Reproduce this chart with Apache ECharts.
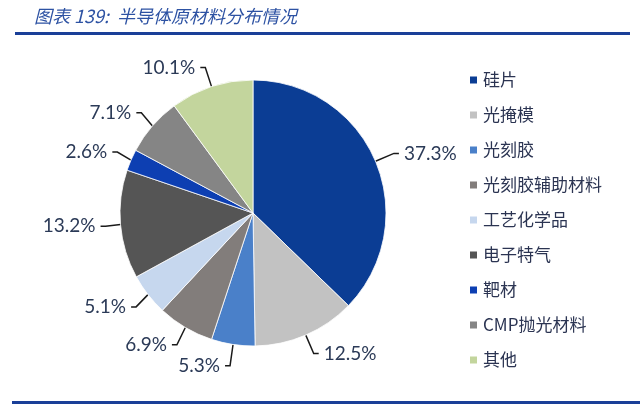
<!DOCTYPE html>
<html lang="zh">
<head>
    <meta charset="UTF-8">
    <title>半导体原材料分布情况</title>
    <script src="https://cdn.jsdelivr.net/npm/echarts@6/dist/echarts.min.js"></script>
    <style>
        html, body { margin: 0; padding: 0; background: #fff; }
        #main { width: 640px; height: 410px; }
    </style>
</head>
<body>
<div id="main"></div>
<script>
    // 数据
    var categories = ['硅片', '光掩模', '光刻胶', '光刻胶辅助材料', '工艺化学品', '电子特气', '靶材', 'CMP抛光材料', '其他'];
    var shares = [37.3, 12.5, 5.3, 6.9, 5.1, 13.2, 2.6, 7.1, 10.1];
    var colors = ['#0b3d94', '#c2c2c2', '#4a80c9', '#827d7b', '#c6d7ee', '#555555', '#0d3fb2', '#858585', '#c3d59d'];

    var myChart = echarts.init(document.getElementById('main'));

    var pieData = categories.map(function (name, i) {
        return { name: name, value: shares[i], itemStyle: { color: colors[i] } };
    });

    var option = {
        animation: false,
        backgroundColor: '#ffffff',
        title: {
            text: '图表 139:  半导体原材料分布情况',
            left: 29,
            top: 2,
            textStyle: {
                color: '#2d52a3',
                fontSize: 18,
                fontStyle: 'italic',
                fontWeight: 'normal',
                fontFamily: 'Noto Sans CJK SC'
            }
        },
        legend: {
            orient: 'vertical',
            left: 463,
            top: 66,
            itemWidth: 9,
            itemHeight: 9,
            itemGap: 17,
            icon: 'rect',
            textStyle: {
                color: '#2b3452',
                fontSize: 17,
                lineHeight: 18,
                fontFamily: 'Noto Sans CJK SC'
            },
            data: categories
        },
        graphic: [
            { type: 'rect', shape: { x: 15, y: 32, width: 615, height: 3 }, style: { fill: '#1a3f98' } },
            { type: 'rect', shape: { x: 12, y: 401, width: 628, height: 3 }, style: { fill: '#1a3f98' } }
        ],
        series: [{
            type: 'pie',
            center: [253, 213],
            radius: 133,
            startAngle: 90,
            clockwise: true,
            itemStyle: { borderColor: '#ffffff', borderWidth: 0.8 },
            label: {
                show: true,
                position: 'outside',
                formatter: '{c}%',
                color: '#2b3a57',
                fontSize: 19,
                fontFamily: 'Lato'
            },
            labelLine: {
                show: true,
                length: 20,
                length2: 5,
                lineStyle: { color: '#1a1a1a', width: 1.5 }
            },
            data: pieData
        }]
    };
    myChart.setOption(option);
</script>
</body>
</html>
